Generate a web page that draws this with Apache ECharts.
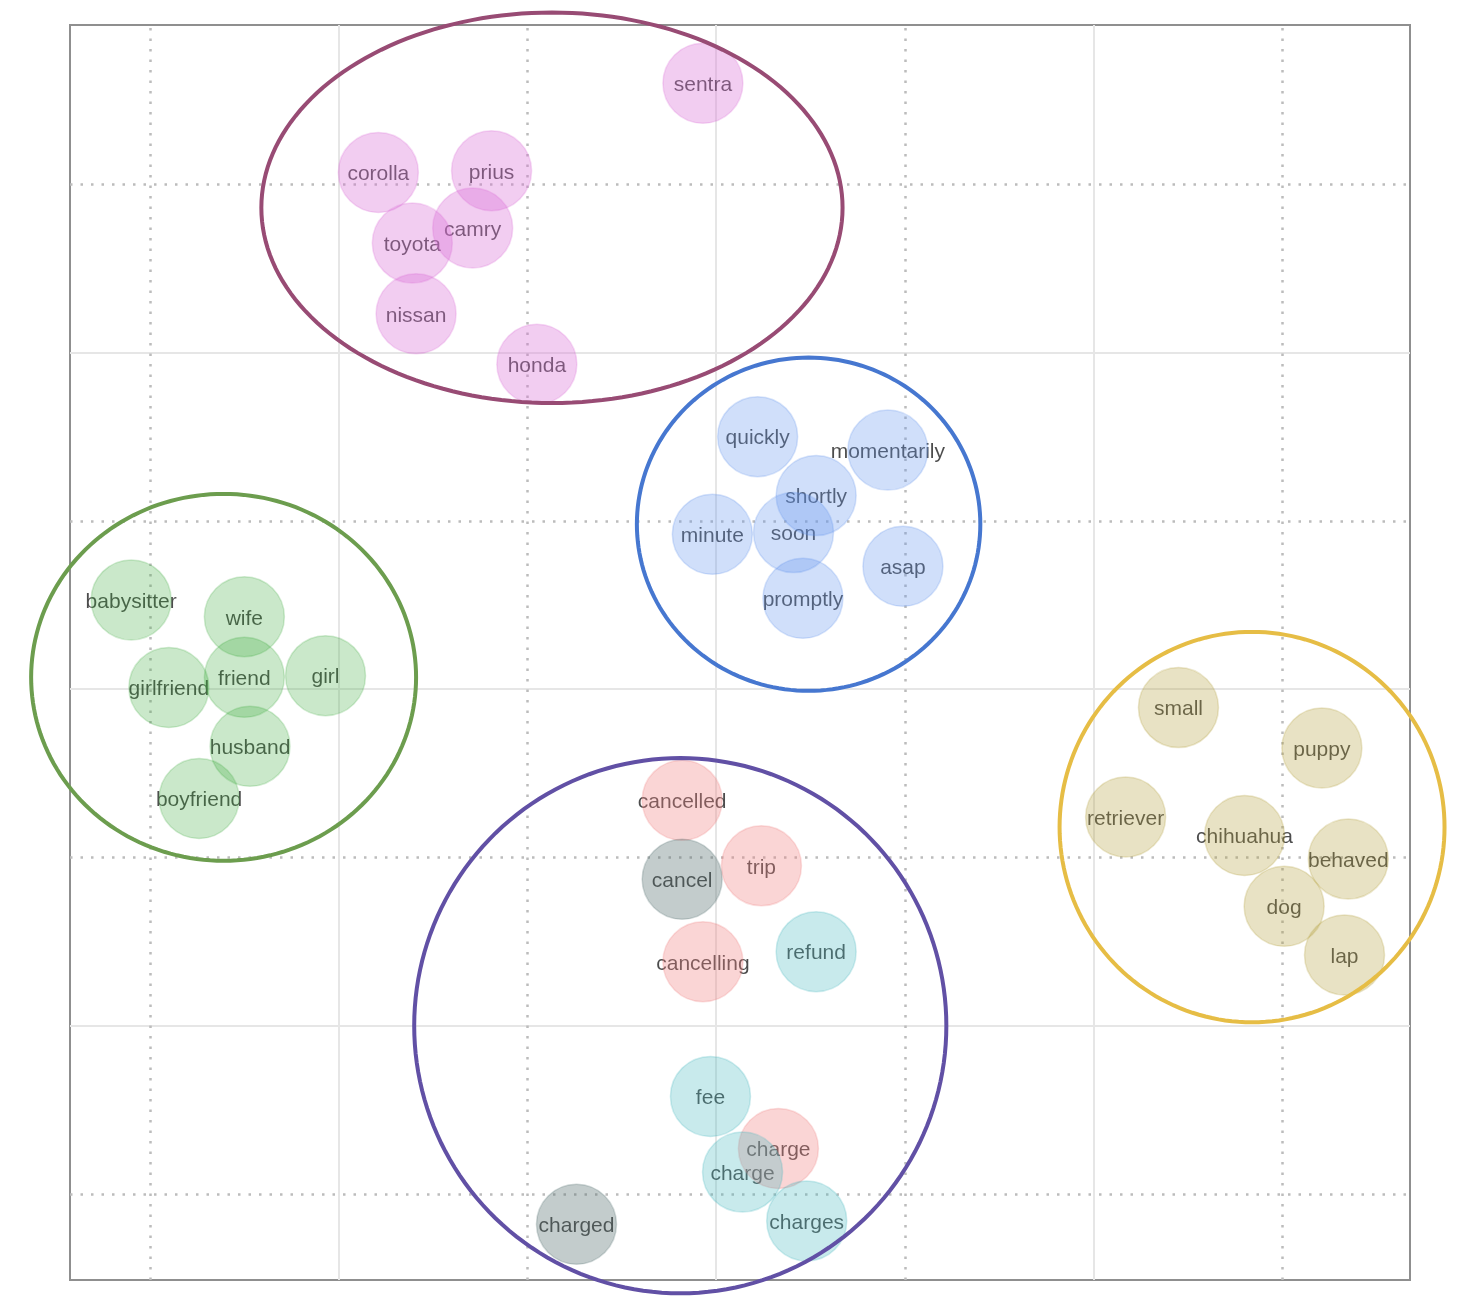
<!DOCTYPE html>
<html lang="en">
<head>
<meta charset="UTF-8">
<title>Word clusters</title>
<script src="https://cdn.jsdelivr.net/npm/echarts@6/dist/echarts.min.js"></script>
<style>
  html, body { margin: 0; padding: 0; background: #fff; }
  #chart { width: 1468px; height: 1308px; }
</style>
</head>
<body>
<div id="chart"></div>
<script>
// word positions in the 2-d embedding
var carWords = ['sentra', 'corolla', 'prius', 'camry', 'toyota', 'nissan', 'honda'];
var carX = [3.93, 2.21, 2.81, 2.71, 2.39, 2.41, 3.05];
var carY = [7.60, 7.07, 7.08, 6.74, 6.65, 6.23, 5.93];

var soonWords = ['quickly', 'momentarily', 'shortly', 'minute', 'soon', 'asap', 'promptly'];
var soonX = [4.22, 4.91, 4.53, 3.98, 4.41, 4.99, 4.46];
var soonY = [5.50, 5.42, 5.15, 4.92, 4.93, 4.73, 4.54];

var peopleWords = ['babysitter', 'wife', 'friend', 'girl', 'girlfriend', 'husband', 'boyfriend'];
var peopleX = [0.90, 1.50, 1.50, 1.93, 1.10, 1.53, 1.26];
var peopleY = [4.53, 4.43, 4.07, 4.08, 4.01, 3.66, 3.35];

var dogWords = ['small', 'puppy', 'retriever', 'chihuahua', 'behaved', 'dog', 'lap'];
var dogX = [6.45, 7.21, 6.17, 6.80, 7.35, 7.01, 7.33];
var dogY = [3.89, 3.65, 3.24, 3.13, 2.99, 2.71, 2.42];

var cancelWords = ['cancelled', 'trip', 'cancelling', 'charge'];
var cancelX = [3.82, 4.24, 3.93, 4.33];
var cancelY = [3.34, 2.95, 2.38, 1.27];

var feeWords = ['refund', 'fee', 'charge', 'charges'];
var feeX = [4.53, 3.97, 4.14, 4.48];
var feeY = [2.44, 1.58, 1.13, 0.84];

var otherWords = ['cancel', 'charged'];
var otherX = [3.82, 3.26];
var otherY = [2.87, 0.82];

// cluster outlines: centre and half-axes
var ringCX = [3.13, 4.49, 1.39, 6.84, 3.81];
var ringCY = [6.86, 4.98, 4.07, 3.18, 2.00];
var ringRX = [1.54, 0.91, 1.02, 1.02, 1.41];
var ringRY = [1.16, 0.99, 1.09, 1.16, 1.59];

// grid lines
var majorTicks = [2, 4, 6];
var minorTicks = [1, 3, 5, 7];
var xMin = 0.576, xMax = 7.677, yMin = 0.489, yMax = 7.946;

var ringColors = ['#984b74', '#4677d0', '#6c9d4e', '#e6bd45', '#6150a5'];

function rows(words, xs, ys) {
    var out = [];
    for (var i = 0; i < words.length; i++) out.push([xs[i], ys[i], words[i]]);
    return out;
}

var groups = [
    { data: rows(carWords, carX, carY), fill: 'rgba(218,112,214,0.35)', line: 'rgba(218,112,214,0.25)' },
    { data: rows(soonWords, soonX, soonY), fill: 'rgba(100,149,237,0.30)', line: 'rgba(100,149,237,0.25)' },
    { data: rows(peopleWords, peopleX, peopleY), fill: 'rgba(60,170,60,0.27)', line: 'rgba(60,170,60,0.22)' },
    { data: rows(dogWords, dogX, dogY), fill: 'rgba(180,160,60,0.30)', line: 'rgba(180,160,60,0.25)' },
    { data: rows(cancelWords, cancelX, cancelY), fill: 'rgba(240,128,128,0.33)', line: 'rgba(240,128,128,0.25)' },
    { data: rows(feeWords, feeX, feeY), fill: 'rgba(72,185,192,0.30)', line: 'rgba(72,185,192,0.25)' },
    { data: rows(otherWords, otherX, otherY), fill: 'rgba(84,110,110,0.35)', line: 'rgba(84,110,110,0.25)' }
];

var allWords = [];
groups.forEach(function (g) { allWords = allWords.concat(g.data); });

var gridLines = [];
majorTicks.forEach(function (v) {
    gridLines.push({ xAxis: v, lineStyle: { color: '#e6e6e6', width: 2, type: 'solid' } });
    gridLines.push({ yAxis: v, lineStyle: { color: '#e6e6e6', width: 2, type: 'solid' } });
});
minorTicks.forEach(function (v) {
    gridLines.push({ xAxis: v, lineStyle: { color: '#bcbcbc', width: 2.5, type: [2.5, 8] } });
    gridLines.push({ yAxis: v, lineStyle: { color: '#bcbcbc', width: 2.5, type: [2.5, 8] } });
});

var series = [];

// grid lines
series.push({
    type: 'scatter',
    z: 1,
    silent: true,
    symbolSize: 0,
    data: [[xMin, yMin]],
    markLine: {
        z: 1,
        silent: true,
        symbol: ['none', 'none'],
        label: { show: false },
        data: gridLines
    }
});

// words go underneath the translucent bubbles
series.push({
    type: 'scatter',
    z: 2,
    silent: true,
    symbolSize: 1,
    itemStyle: { color: 'rgba(0,0,0,0)' },
    label: {
        show: true,
        position: 'inside',
        offset: [0, 2],
        fontFamily: 'Liberation Sans',
        fontSize: 21,
        color: '#1f1f1f',
        formatter: function (p) { return p.data[2]; }
    },
    data: allWords
});

groups.forEach(function (g) {
    series.push({
        type: 'scatter',
        z: 3,
        silent: true,
        symbolSize: 80,
        itemStyle: { color: g.fill, borderColor: g.line, borderWidth: 1.5, opacity: 1 },
        data: g.data
    });
});

// cluster outlines
var rings = [];
for (var i = 0; i < ringCX.length; i++) rings.push([ringCX[i], ringCY[i], ringRX[i], ringRY[i]]);

series.push({
    type: 'custom',
    z: 4,
    silent: true,
    clip: false,
    encode: { x: 0, y: 1 },
    data: rings,
    renderItem: function (params, api) {
        var c = api.coord([api.value(0), api.value(1)]);
        var s = api.size([api.value(2), api.value(3)]);
        var pts = [];
        for (var k = 0; k < 180; k++) {
            var t = k / 180 * Math.PI * 2;
            pts.push([c[0] + s[0] * Math.cos(t), c[1] + s[1] * Math.sin(t)]);
        }
        return {
            type: 'polygon',
            shape: { points: pts },
            style: { fill: 'none', stroke: ringColors[params.dataIndex], lineWidth: 4 }
        };
    }
});

var chart = echarts.init(document.getElementById('chart'));
chart.setOption({
    animation: false,
    backgroundColor: '#fff',
    grid: {
        left: 70, right: 58, top: 25, bottom: 28,
        show: true,
        borderColor: '#8f8f8f',
        borderWidth: 2
    },
    xAxis: {
        type: 'value', min: xMin, max: xMax,
        axisLine: { show: false }, axisTick: { show: false },
        axisLabel: { show: false }, splitLine: { show: false }
    },
    yAxis: {
        type: 'value', min: yMin, max: yMax,
        axisLine: { show: false }, axisTick: { show: false },
        axisLabel: { show: false }, splitLine: { show: false }
    },
    series: series
});
</script>
</body>
</html>
